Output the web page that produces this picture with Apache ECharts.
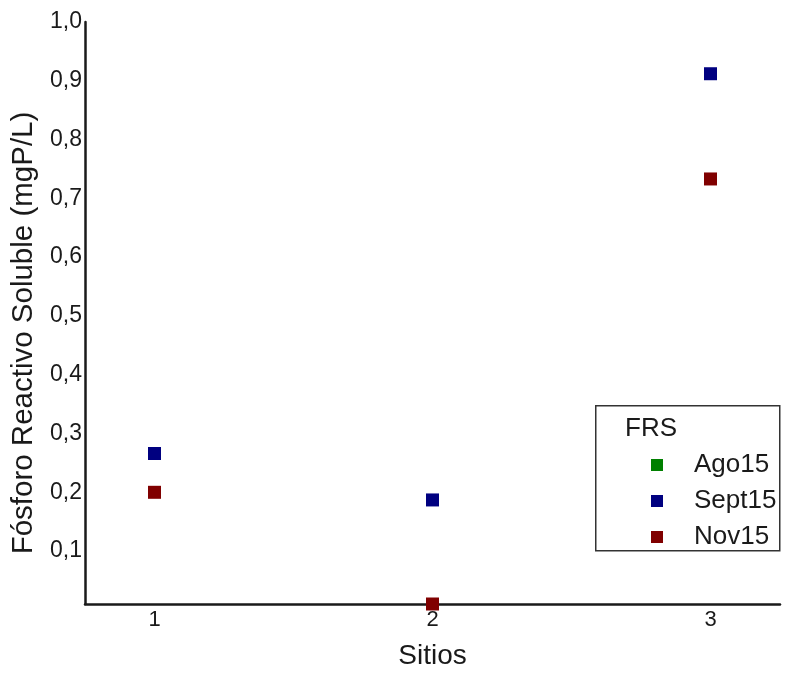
<!DOCTYPE html>
<html>
<head>
<meta charset="utf-8">
<script src="https://cdn.jsdelivr.net/npm/echarts@6/dist/echarts.min.js"></script>
<style>
  html, body { margin: 0; padding: 0; background: #fff; }
  #chart { width: 785px; height: 673px; }
</style>
</head>
<body>
<div id="chart"></div>
<script>
// Sampling sites and soluble reactive phosphorus (mgP/L) per campaign
const sitios = [1, 2, 3];
const ago15 = [null, null, null];
const sept15 = [0.266, 0.187, 0.912];
const nov15 = [0.200, 0.010, 0.733];
const yTicks = [0.1, 0.2, 0.3, 0.4, 0.5, 0.6, 0.7, 0.8, 0.9, 1.0];

const FONT = '"Liberation Sans", Arial, sans-serif';
const INK = '#1a1a1a';

function pairs(vals) {
  return sitios.map((s, i) => vals[i] == null ? [s, '-'] : [s, vals[i]]);
}

const chart = echarts.init(document.getElementById('chart'), null, { renderer: 'canvas' });

chart.setOption({
  backgroundColor: '#ffffff',
  animation: false,
  grid: { left: 85, right: 5, top: 22, bottom: 69, outerBoundsMode: 'none', containLabel: false },
  xAxis: {
    type: 'value',
    min: 0.75,
    max: 3.25,
    name: 'Sitios',
    nameLocation: 'middle',
    nameGap: 38,
    nameTextStyle: { fontFamily: FONT, fontSize: 28, color: INK },
    axisLine: { show: true, lineStyle: { color: INK, width: 2.5 } },
    axisTick: { show: false },
    splitLine: { show: false },
    axisLabel: {
      customValues: sitios,
      fontFamily: FONT, fontSize: 22, color: INK, margin: 5,
      formatter: v => String(v)
    }
  },
  yAxis: {
    type: 'value',
    min: 0.01,
    max: 1.0,
    name: 'Fósforo Reactivo Soluble (mgP/L)',
    nameLocation: 'middle',
    nameGap: 46,
    nameTextStyle: { fontFamily: FONT, fontSize: 29.5, color: INK, padding: [0, 40, 0, 0] },
    axisLine: { show: true, lineStyle: { color: INK, width: 2.5 } },
    axisTick: { show: false },
    splitLine: { show: false },
    axisLabel: {
      customValues: yTicks,
      fontFamily: FONT, fontSize: 23, color: INK, margin: 3,
      formatter: v => v.toFixed(1).replace('.', ',')
    }
  },
  legend: {
    orient: 'vertical',
    left: 646,
    top: 447,
    itemWidth: 12,
    itemHeight: 12,
    itemGap: 10,
    icon: 'rect',
    textStyle: { fontFamily: FONT, fontSize: 26, color: INK, lineHeight: 24, padding: [0, 0, 0, 26] },
    data: ['Ago15', 'Sept15', 'Nov15']
  },
  graphic: [
    {
      type: 'rect',
      left: 595, top: 405,
      shape: { width: 184, height: 145 },
      style: { fill: 'transparent', stroke: '#333', lineWidth: 1.5 },
      z: 10
    },
    {
      type: 'text',
      left: 625, top: 416,
      style: { text: 'FRS', font: '26px ' + FONT, fill: INK },
      z: 10
    }
  ],
  series: [
    {
      name: 'Ago15', type: 'scatter', symbol: 'rect', symbolSize: 13,
      itemStyle: { color: '#008000', opacity: 1 }, data: pairs(ago15)
    },
    {
      name: 'Sept15', type: 'scatter', symbol: 'rect', symbolSize: 13,
      itemStyle: { color: '#000080', opacity: 1 }, data: pairs(sept15)
    },
    {
      name: 'Nov15', type: 'scatter', symbol: 'rect', symbolSize: 13,
      itemStyle: { color: '#800000', opacity: 1 }, data: pairs(nov15)
    }
  ]
});
</script>
</body>
</html>
